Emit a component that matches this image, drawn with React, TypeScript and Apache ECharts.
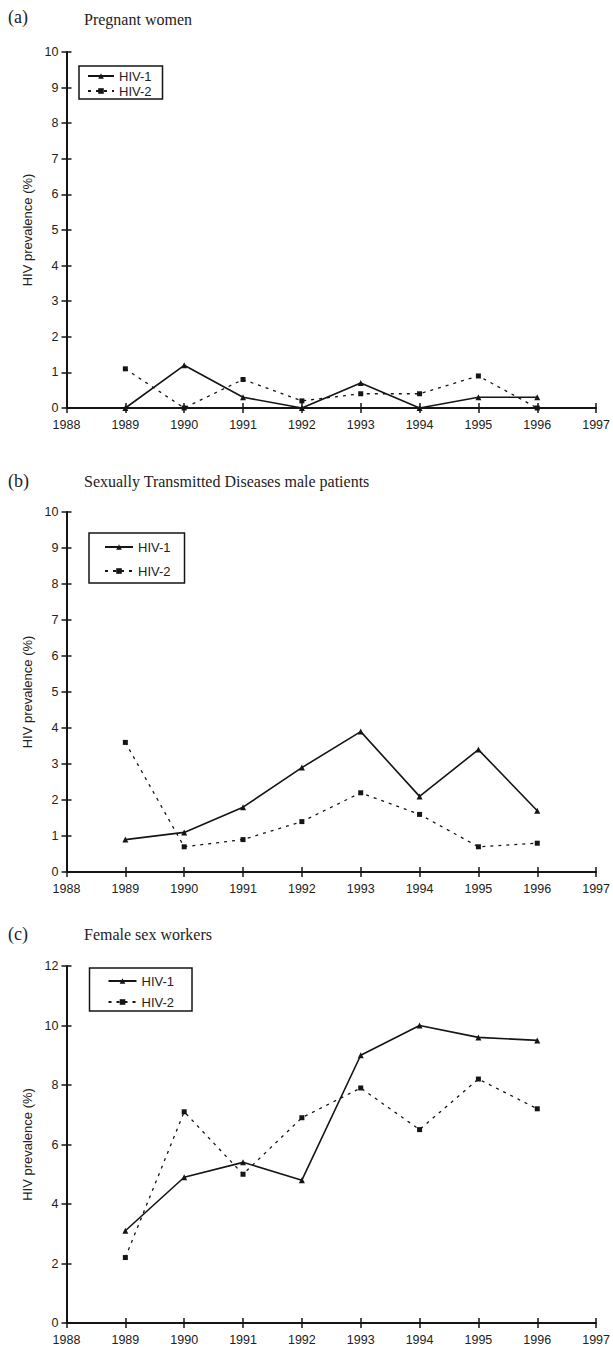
import React, { useEffect, useRef } from "react";
import * as echarts from "echarts";

const years = [1989, 1990, 1991, 1992, 1993, 1994, 1995, 1996];
const xMin = 1988;
const xMax = 1997;

const pregnantHIV1 = [0, 1.2, 0.3, 0, 0.7, 0, 0.3, 0.3];
const pregnantHIV2 = [1.1, 0, 0.8, 0.2, 0.4, 0.4, 0.9, 0];
const stdHIV1 = [0.9, 1.1, 1.8, 2.9, 3.9, 2.1, 3.4, 1.7];
const stdHIV2 = [3.6, 0.7, 0.9, 1.4, 2.2, 1.6, 0.7, 0.8];
const fswHIV1 = [3.1, 4.9, 5.4, 4.8, 9.0, 10.0, 9.6, 9.5];
const fswHIV2 = [2.2, 7.1, 5.0, 6.9, 7.9, 6.5, 8.2, 7.2];

const panelLabels = ["(a)", "(b)", "(c)"];
const panelTitles = [
  "Pregnant women",
  "Sexually Transmitted Diseases male patients",
  "Female sex workers",
];
const seriesNames = ["HIV-1", "HIV-2"];
const yMaxes = [10, 10, 12];
const yIntervals = [1, 1, 2];
const yAxisName = "HIV prevalence (%)";

const panelData = [
  [pregnantHIV1, pregnantHIV2],
  [stdHIV1, stdHIV2],
  [fswHIV1, fswHIV2],
];

// layout
const gridLeft = 66.5;
const gridWidth = 531.5;
const gridTops = [52, 512, 966];
const gridHeights = [356, 360, 357];
const labelTops = [8, 472, 925];
const titleTops = [11, 473, 926];
const legendBoxes = [
  { left: 79, top: 66, pad: [3.5, 11, 1.5, 8], gap: 2, w: 26 },
  { left: 89, top: 533, pad: [7.5, 14, 5.5, 15], gap: 11, w: 28 },
  { left: 89.5, top: 968, pad: [6.5, 18, 2.5, 18], gap: 8, w: 28 },
];

const INK = "#151515";
const sans = "Liberation Sans";
const serif = "Liberation Serif";

export default function App() {
  const ref = useRef<HTMLDivElement>(null);

  useEffect(() => {
    if (!ref.current) return;
    const chart = echarts.init(ref.current, null, { renderer: "svg" });

    const grid: any[] = [];
    const xAxis: any[] = [];
    const yAxis: any[] = [];
    const series: any[] = [];
    const legend: any[] = [];
    const title: any[] = [];

    for (let i = 0; i < 3; i++) {
      grid.push({
        left: gridLeft,
        width: gridWidth,
        top: gridTops[i],
        height: gridHeights[i],
        containLabel: false,
      });
      const xBase = {
        type: "value",
        gridIndex: i,
        min: xMin,
        max: xMax,
        interval: 1,
        position: "bottom",
        splitLine: { show: false },
      };
      xAxis.push({
        ...xBase,
        axisLine: { show: true, onZero: false, lineStyle: { color: INK, width: 2 } },
        axisTick: { show: true, length: 5, lineStyle: { color: INK, width: 1.5 } },
        axisLabel: {
          show: true,
          margin: 10,
          formatter: (v: number) => String(v),
          fontFamily: sans,
          fontSize: 12.5,
          color: "#222",
        },
      });
      xAxis.push({
        ...xBase,
        axisLine: { show: false, onZero: false },
        axisTick: { show: true, inside: true, length: 5, lineStyle: { color: INK, width: 1.5 } },
        axisLabel: { show: false },
      });
      const yBase = {
        type: "value",
        gridIndex: i,
        min: 0,
        max: yMaxes[i],
        interval: yIntervals[i],
        position: "left",
        splitLine: { show: false },
      };
      yAxis.push({
        ...yBase,
        name: yAxisName,
        nameLocation: "middle",
        nameGap: 31,
        nameTextStyle: { fontFamily: sans, fontSize: 13, color: "#222" },
        axisLine: { show: true, onZero: false, lineStyle: { color: INK, width: 2 } },
        axisTick: { show: true, length: 5, lineStyle: { color: INK, width: 1.5 } },
        axisLabel: {
          show: true,
          margin: 8,
          fontFamily: sans,
          fontSize: 12.5,
          color: "#222",
        },
      });
      yAxis.push({
        ...yBase,
        axisLine: { show: false, onZero: false },
        axisTick: { show: true, inside: true, length: 5, lineStyle: { color: INK, width: 1.5 } },
        axisLabel: { show: false },
      });

      const [d1, d2] = panelData[i];
      series.push({
        name: seriesNames[0],
        type: "line",
        xAxisIndex: 2 * i,
        yAxisIndex: 2 * i,
        data: years.map((y, k) => [y, d1[k]]),
        symbol: "triangle",
        symbolSize: 6,
        lineStyle: { color: INK, width: 1.6, type: "solid" },
        itemStyle: { color: INK },
        z: 5,
      });
      series.push({
        name: seriesNames[1],
        type: "line",
        xAxisIndex: 2 * i,
        yAxisIndex: 2 * i,
        data: years.map((y, k) => [y, d2[k]]),
        symbol: "rect",
        symbolSize: 5,
        lineStyle: { color: INK, width: 1.3, type: [3, 5] },
        itemStyle: { color: INK },
        z: 4,
      });

      const lb = legendBoxes[i];
      legend.push({
        data: seriesNames,
        orient: "vertical",
        left: lb.left,
        top: lb.top,
        padding: lb.pad,
        itemGap: lb.gap,
        itemWidth: lb.w,
        itemHeight: 7,
        borderColor: INK,
        borderWidth: 1.5,
        borderRadius: 0,
        selectedMode: false,
        textStyle: { fontFamily: sans, fontSize: 13, color: "#222", lineHeight: 13 },
      });

      title.push({
        text: panelLabels[i],
        left: 8,
        top: labelTops[i],
        padding: 0,
        textStyle: { fontFamily: serif, fontSize: 18, fontWeight: "normal", color: "#222" },
      });
      title.push({
        text: panelTitles[i],
        left: 84,
        top: titleTops[i],
        padding: 0,
        textStyle: { fontFamily: serif, fontSize: 16, fontWeight: "normal", color: "#222" },
      });
    }

    chart.setOption({
      animation: false,
      backgroundColor: "#fff",
      title,
      legend,
      grid,
      xAxis,
      yAxis,
      series,
    });

    return () => chart.dispose();
  }, []);

  return (
    <div
      ref={ref}
      style={{ position: "absolute", left: 0, top: 0, width: 613, height: 1350 }}
    />
  );
}
